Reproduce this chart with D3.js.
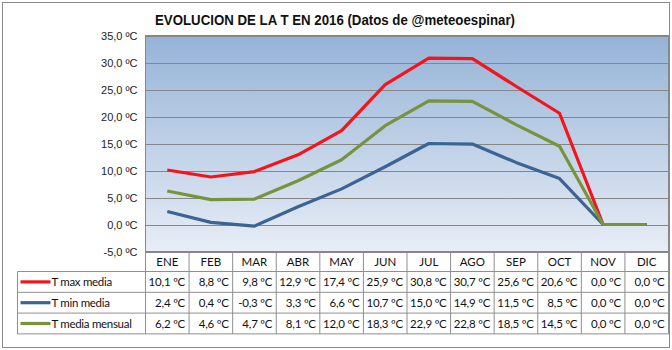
<!DOCTYPE html>
<html><head><meta charset="utf-8">
<script src="https://cdn.jsdelivr.net/npm/d3@7"></script>
<style>body{margin:0;background:#fff}svg{display:block}</style>
</head><body>
<svg id="c" width="672" height="350"></svg>
<script>
const months = ["ENE","FEB","MAR","ABR","MAY","JUN","JUL","AGO","SEP","OCT","NOV","DIC"];
const tMax = [10.1,8.8,9.8,12.9,17.4,25.9,30.8,30.7,25.6,20.6,0.0,0.0];
const tMin = [2.4,0.4,-0.3,3.3,6.6,10.7,15.0,14.9,11.5,8.5,0.0,0.0];
const tMed = [6.2,4.6,4.7,8.1,12.0,18.3,22.9,22.8,18.5,14.5,0.0,0.0];
const seriesNames = ["T max media","T min media","T media mensual"];
const yTicks = [-5,0,5,10,15,20,25,30,35];
const title = "EVOLUCION DE LA T EN 2016 (Datos de @meteoespinar)";

const series = [
  {name: seriesNames[0], values: tMax, color: "#f5141b"},
  {name: seriesNames[1], values: tMin, color: "#3b6493"},
  {name: seriesNames[2], values: tMed, color: "#77933c"}
];

const svg = d3.select("#c");
const L = 145.5, R = 668.5, T = 35.5, B = 251.5;
const rowH = 20.8;
const legL = 17.5;

const num = d => d3.format(".1f")(d).replace(".",",").replace("\u2212","-");

svg.append("rect").attr("x",2.5).attr("y",2.5).attr("width",667).attr("height",345)
  .attr("fill","#fff").attr("stroke","#8a8a8a").attr("stroke-width",1);

const defs = svg.append("defs");
const grad = defs.append("linearGradient").attr("id","bg").attr("x1",0).attr("y1",0).attr("x2",0).attr("y2",1);
grad.append("stop").attr("offset","0%").attr("stop-color","#95b3d7");
grad.append("stop").attr("offset","100%").attr("stop-color","#e8edf6");

const x = d3.scaleBand().domain(months).range([L, R]);
const y = d3.scaleLinear().domain([-5, 35]).range([B, T]);

svg.append("rect").attr("x",L).attr("y",T).attr("width",R-L).attr("height",B-T)
  .attr("fill","url(#bg)");

svg.append("g").selectAll("line").data(yTicks).join("line")
  .attr("x1",L).attr("x2",R)
  .attr("y1",d=>Math.round(y(d))+0.5).attr("y2",d=>Math.round(y(d))+0.5)
  .attr("stroke","#868686").attr("stroke-width",1);

svg.append("rect").attr("x",L).attr("y",T).attr("width",R-L).attr("height",B-T)
  .attr("fill","none").attr("stroke","#868686");

const yAxis = d3.axisLeft(y).tickValues(yTicks).tickSize(0).tickPadding(8).tickFormat(d => num(d) + " ºC");
const gy = svg.append("g").attr("transform",`translate(${L},0)`).call(yAxis);
gy.select(".domain").remove();
gy.selectAll("text").attr("font-family","Liberation Sans, Arial, sans-serif").attr("font-size","11px").attr("fill","#222");

// lines: red, blue, green (green on top)
const line = d3.line().x((d,i)=>x(months[i])+x.bandwidth()/2).y(d=>y(d));
svg.append("g").selectAll("path").data(series).join("path")
  .attr("d",d=>line(d.values)).attr("fill","none").attr("stroke",d=>d.color)
  .attr("stroke-width",3.2).attr("stroke-linejoin","round").attr("stroke-linecap","butt");

const tt = svg.append("text").attr("x",335).attr("y",25).attr("text-anchor","middle")
  .attr("font-family","Liberation Sans Narrow, Arial Narrow, Liberation Sans, Arial, sans-serif")
  .attr("font-weight","bold").attr("font-size","14px").attr("fill","#111").text(title);
tt.attr("textLength",360).attr("lengthAdjust","spacingAndGlyphs");

const tbl = svg.append("g");
const gridColor = "#8f8f8f";
const tableFont = "Lato, 'Open Sans', sans-serif";
const hdrTop = B, hdrBot = B + 20;
const rowsTop = hdrBot;
tbl.append("line").attr("x1",L).attr("x2",R).attr("y1",hdrBot).attr("y2",hdrBot).attr("stroke",gridColor);
tbl.selectAll(".hdr").data(months).join("text")
  .attr("x",d=>x(d)+x.bandwidth()/2).attr("y",hdrTop+14.5).attr("text-anchor","middle")
  .attr("font-family",tableFont).attr("font-size","11.5px").attr("fill","#111").text(d=>d);
series.forEach((s,ri)=>{
  const y0 = rowsTop + ri*rowH, y1 = y0 + rowH;
  tbl.append("line").attr("x1",legL).attr("x2",R).attr("y1",y1).attr("y2",y1).attr("stroke",gridColor);
  tbl.append("line").attr("x1",legL+3).attr("x2",legL+33).attr("y1",y0+rowH/2).attr("y2",y0+rowH/2)
    .attr("stroke",s.color).attr("stroke-width",3.2);
  tbl.append("text").attr("x",legL+34).attr("y",y0+14.5).attr("font-family",tableFont)
    .attr("font-size","11.5px").attr("letter-spacing","-0.3px").attr("fill","#111").text(s.name);
  tbl.selectAll(".v"+ri).data(s.values).join("text")
    .attr("x",(d,i)=>x(months[i])+x.bandwidth()-4).attr("y",y0+14.5).attr("text-anchor","end")
    .attr("font-family",tableFont).attr("font-size","11.5px").attr("letter-spacing","-0.2px").attr("fill","#111")
    .text(d=>num(d)+" ºC");
});
const tblBot = rowsTop + 3*rowH;
tbl.append("line").attr("x1",legL).attr("x2",legL).attr("y1",rowsTop).attr("y2",tblBot).attr("stroke",gridColor);
tbl.append("line").attr("x1",legL).attr("x2",L).attr("y1",rowsTop).attr("y2",rowsTop).attr("stroke",gridColor);
tbl.selectAll(".vl").data(months.concat(["_end"])).join("line")
  .attr("x1",d=>d==="_end"?R:x(d)).attr("x2",d=>d==="_end"?R:x(d))
  .attr("y1",hdrTop).attr("y2",tblBot).attr("stroke",gridColor);
</script>
</body></html>
